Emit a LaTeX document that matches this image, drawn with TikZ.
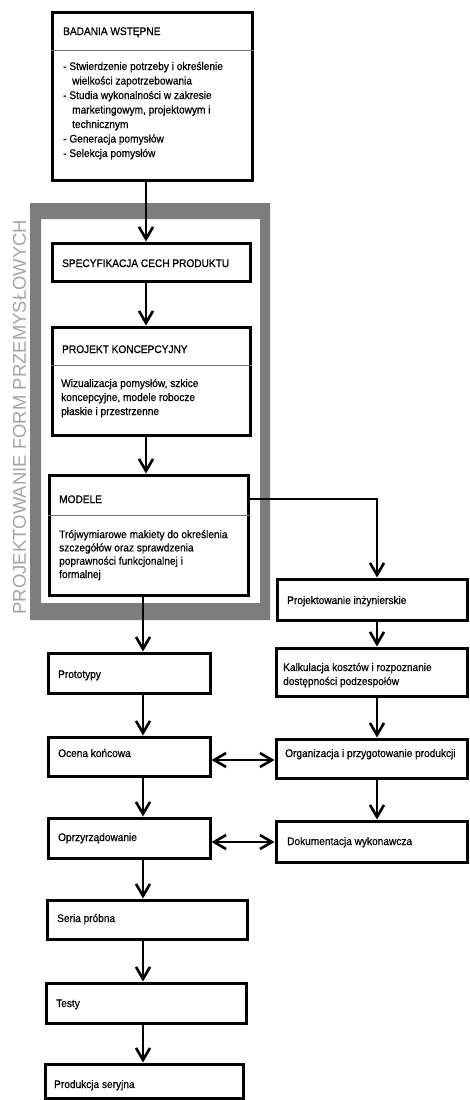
\documentclass[tikz,border=0pt]{standalone}
\usepackage{fontspec}
\setmainfont{Liberation Sans}[FakeStretch=0.92,FakeBold=0.6]
\newfontfamily\sidefont{Liberation Sans}
\usetikzlibrary{arrows.meta,calc}
\definecolor{framegray}{RGB}{125,125,128}
\definecolor{sidegray}{RGB}{165,165,165}
\tikzset{
  box/.style={draw, line width=3pt, fill=white, rectangle, inner sep=0pt},
  lbl/.style={anchor=base west, inner sep=0pt, align=left, font=\fontsize{11pt}{14pt}\selectfont},
  tip/.style={},
  conn/.style={line width=2pt, -{Straight Barb[length=12pt,width=14pt,line width=2.6pt]}},
  biconn/.style={line width=2pt, {Straight Barb[length=12pt,width=14pt,line width=2.6pt]}-{Straight Barb[length=12pt,width=14pt,line width=2.6pt]}},
  divider/.style={line width=0.7pt, black!55},
}
\begin{document}
\begin{tikzpicture}[x=1pt,y=-1pt]
\fill[white] (0,0) rectangle (469,1100);
\useasboundingbox (0,0) rectangle (469,1100);

% gray frame
\fill[framegray, even odd rule] (30,203) rectangle (270,620) (41,219) rectangle (260,603);
\node[rotate=90, text=sidegray, inner sep=0pt, font=\sidefont\fontsize{18.5pt}{20pt}\selectfont] (side) at (19.5,417) {PROJEKTOWANIE FORM PRZEMYSŁOWYCH};

% helper coordinates
\coordinate (cA) at (146,0);
\coordinate (cB) at (143,0);
\coordinate (cC) at (377,0);
\coordinate (d1) at (0,50);
\coordinate (d2) at (0,365);
\coordinate (d3) at (0,515);
\coordinate (mr) at (0,499);
\coordinate (h1) at (0,760);
\coordinate (h2) at (0,842);

% boxes
\node[box, minimum width=200pt, minimum height=168pt] (bad) at (152,96) {};
\node[box, minimum width=198pt, minimum height=38pt] (spec) at (151,262) {};
\node[box, minimum width=198pt, minimum height=108pt] (pk) at (151,381) {};
\node[box, minimum width=199pt, minimum height=120pt] (mod) at (148.5,535) {};
\node[box, minimum width=190pt, minimum height=41pt] (pi) at (372,599.5) {};
\node[box, minimum width=191pt, minimum height=48pt] (kal) at (371.5,672) {};
\node[box, minimum width=191pt, minimum height=39pt] (org) at (371.5,758.5) {};
\node[box, minimum width=191pt, minimum height=41pt] (dok) at (371.5,841.5) {};
\node[box, minimum width=162pt, minimum height=40pt] (pro) at (129,673) {};
\node[box, minimum width=162pt, minimum height=39pt] (oce) at (129,756.5) {};
\node[box, minimum width=162pt, minimum height=40pt] (opr) at (129,838) {};
\node[box, minimum width=200pt, minimum height=39pt] (ser) at (147,919.5) {};
\node[box, minimum width=200pt, minimum height=40pt] (tes) at (146,1003) {};
\node[box, minimum width=198pt, minimum height=34pt] (prd) at (144,1081) {};

% dividers
\draw[divider] (bad.west |- d1) -- (bad.east |- d1);
\draw[divider] (pk.west |- d2) -- (pk.east |- d2);
\draw[divider] (mod.west |- d3) -- (mod.east |- d3);

% texts (multi-line: base = last line)
\node[lbl] (badT) at (63,35) {BADANIA WSTĘPNE};
\node[lbl, font=\fontsize{11pt}{14.5pt}\selectfont] (badB) at (63,157) {- Stwierdzenie potrzeby i określenie\\\hspace*{9pt}wielkości zapotrzebowania\\- Studia wykonalności w zakresie\\\hspace*{9pt}marketingowym, projektowym i\\\hspace*{9pt}technicznym\\- Generacja pomysłów\\- Selekcja pomysłów};
\node[lbl] (specT) at (62,267) {SPECYFIKACJA CECH PRODUKTU};
\node[lbl] (pkT) at (62,353) {PROJEKT KONCEPCYJNY};
\node[lbl] (pkB) at (61,415) {Wizualizacja pomysłów, szkice\\koncepcyjne, modele robocze\\płaskie i przestrzenne};
\node[lbl] (modT) at (59,503) {MODELE};
\node[lbl, font=\fontsize{11pt}{13.3pt}\selectfont] (modB) at (59,578) {Trójwymiarowe makiety do określenia\\szczegółów oraz sprawdzenia\\poprawności funkcjonalnej i\\formalnej};
\node[lbl] (piT) at (287,604) {Projektowanie inżynierskie};
\node[lbl] (kalT) at (283,685) {Kalkulacja kosztów i rozpoznanie\\dostępności podzespołów};
\node[lbl] (orgT) at (285,757) {Organizacja i przygotowanie produkcji};
\node[lbl] (dokT) at (287,845) {Dokumentacja wykonawcza};
\node[lbl] (proT) at (58,678) {Prototypy};
\node[lbl] (oceT) at (58,757) {Ocena końcowa};
\node[lbl] (oprT) at (58,841) {Oprzyrządowanie};
\node[lbl] (serT) at (57,922) {Seria próbna};
\node[lbl] (tesT) at (56,1007) {Testy};
\node[lbl] (prdT) at (54,1088) {Produkcja seryjna};

% connectors
\draw[conn] (bad.south -| cA) -- (spec.north -| cA);
\draw[conn] (spec.south -| cA) -- (pk.north -| cA);
\draw[conn] (pk.south -| cA) -- (mod.north -| cA);
\draw[conn] (mod.south -| cB) -- (pro.north -| cB);
\draw[conn] (pro.south -| cB) -- (oce.north -| cB);
\draw[conn] (oce.south -| cB) -- (opr.north -| cB);
\draw[conn] (opr.south -| cB) -- (ser.north -| cB);
\draw[conn] (ser.south -| cB) -- (tes.north -| cB);
\draw[conn] (tes.south -| cB) -- (prd.north -| cB);
\draw[conn] (mod.east |- mr) -| (pi.north -| cC);
\draw[conn] (pi.south -| cC) -- (kal.north -| cC);
\draw[conn] (kal.south -| cC) -- (org.north -| cC);
\draw[conn] (org.south -| cC) -- (dok.north -| cC);
\draw[biconn] (oce.east |- h1) -- (org.west |- h1);
\draw[biconn] (opr.east |- h2) -- (dok.west |- h2);
\end{tikzpicture}
\end{document}
